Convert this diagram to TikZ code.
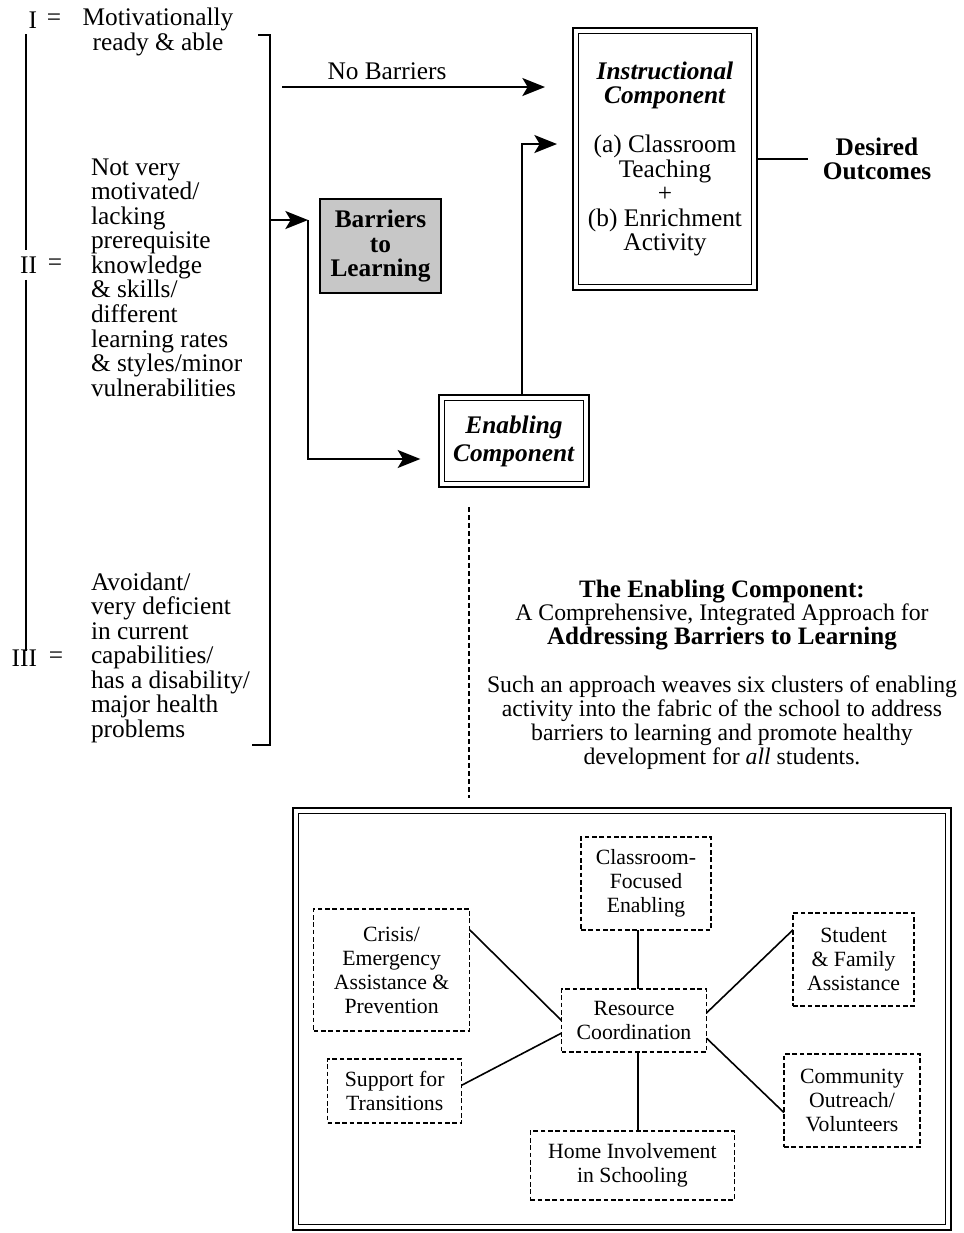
\documentclass[tikz,border=0pt]{standalone}
\usepackage{fontspec}
\setmainfont{Liberation Serif}
\usetikzlibrary{arrows.meta,calc}

\newcommand\PX{0.75pt}
\newcommand\szmain{\fontsize{19pt}{18.4pt}\selectfont}
\newcommand\szblock{\fontsize{17.8pt}{17.9pt}\selectfont}
\newcommand\szhead{\fontsize{18.8pt}{17.9pt}\selectfont\bfseries}
\newcommand\szsmall{\fontsize{16.3pt}{18pt}\selectfont}
\newcommand\bi[1]{\textbf{\textit{#1}}}

\tikzset{
  every node/.style={inner sep=0pt, outer sep=0pt},
  lefttext/.style={font=\szmain, align=left},
  centertext/.style={font=\szmain, align=center},
  rule/.style={line width=1.4pt},
  flow/.style={line width=1.4pt, -{Stealth[length=17pt,width=13.5pt,inset=4pt]}},
  framed/.style={draw, line width=2pt,
    path picture={\draw[line width=0.8pt]
      ([xshift=4pt,yshift=-4pt]path picture bounding box.north west) rectangle
      ([xshift=-4pt,yshift=4pt]path picture bounding box.south east);}},
  dashbox/.style={draw, line width=1.1pt, dash pattern=on 3.5pt off 2pt,
    font=\szsmall, align=center},
  link/.style={line width=1.2pt},
  guide/.style={line width=1.2pt, dash pattern=on 4pt off 2pt},
}

\begin{document}
\begin{tikzpicture}[x=\PX, y=-\PX]
\fill[white] (0,0) rectangle (964,1233);
\useasboundingbox (0,0) rectangle (964,1233);

% ---- student groups ----
\node[lefttext, anchor=east] (n1) at (37,20) {I};
\node[lefttext] (e1) at (54,20) {=};
\node[centertext] (g1) at (158,32) {Motivationally\\ready \& able};

\node[lefttext, anchor=east] (n2) at (37,265) {II};
\node[lefttext] (e2) at (55,265) {=};
\node[lefttext, anchor=west] (g2) at (91,277.5) {Not very\\motivated/\\lacking\\prerequisite\\knowledge\\\& skills/\\different\\learning rates\\\& styles/minor\\vulnerabilities};

\node[lefttext, anchor=east] (n3) at (37,658) {III};
\node[lefttext] (e3) at (56,658) {=};
\node[lefttext, anchor=west] (g3) at (91,657.5) {Avoidant/\\very deficient\\in current\\capabilities/\\has a disability/\\major health\\problems};

\coordinate (vx) at (26,0);
\draw[rule] ([yshift=-4.5pt]n1.south -| vx) -- ([yshift=5pt]n2.north -| vx);
\draw[rule] ([yshift=-5pt]n2.south -| vx) -- ([yshift=-1pt]n3.north -| vx);

% bracket gathering the three groups
\coordinate (brt) at (270,35);
\coordinate (brb) at (270,745);
\draw[rule] ([xshift=-9pt]brt) -- (brt) -- (brb) -- ([xshift=-13.5pt]brb);

% ---- components ----
\node[framed, centertext, minimum width=184*\PX, minimum height=262*\PX] (ins) at (665,159)
  {\bi{Instructional}\\\bi{Component}\\[18.4pt](a) Classroom\\Teaching\\+\\(b) Enrichment\\Activity};

\node[font=\szmain\bfseries, align=center] (out) at (877,159) {Desired\\Outcomes};
\draw[rule, shorten >=11pt] (ins.east) -- (out.west);

\node[draw, line width=1.8pt, fill=black!22, font=\szmain\bfseries, align=center,
  minimum width=121*\PX, minimum height=94*\PX] (bar) at (380.5,246)
  {Barriers\\to\\Learning};

\node[framed, centertext, minimum width=150*\PX, minimum height=92*\PX] (en) at (514,441)
  {\bi{Enabling}\\[2.6pt]\bi{Component}};

% no barriers route
\node[centertext] (nbl) at (387,71) {No Barriers};
\coordinate (nbs) at (282,87);
\draw[flow, shorten >=21pt] (nbs) -- (nbs -| ins.west);

% route through the enabling component
\coordinate (j) at (308,220);
\coordinate (ej) at (308,459);
\draw[flow] (j -| brt) -- (j);
\draw[flow, shorten >=14pt] (j) -- (ej) -- (ej -| en.west);

\coordinate (up) at (522,144);
\draw[flow, shorten >=12pt] (up |- en.north) -- (up) -- (up -| ins.west);

% ---- description ----
\node[font=\szblock, align=center] (desc) at (722,674.5)
  {{\szhead The Enabling Component:}\\
   A Comprehensive, Integrated Approach for\\
   {\szhead Addressing Barriers to Learning}\\[18pt]
   Such an approach weaves six clusters of enabling\\
   activity into the fabric of the school to address\\
   barriers to learning and promote healthy\\
   development for \textit{all} students.};

% ---- six clusters ----
\node[framed, minimum width=658*\PX, minimum height=422*\PX] (frame) at (622,1019) {};

\coordinate (dtop) at (469,507);
\draw[guide, shorten >=7.5pt] (dtop) -- (dtop |- frame.north);

\node[dashbox, minimum width=145*\PX, minimum height=63*\PX] (rc) at (634,1020.5) {Resource\\Coordination};
\node[dashbox, minimum width=130*\PX, minimum height=93*\PX] (cfe) at (646,883.5) {Classroom-\\Focused\\Enabling};
\node[dashbox, minimum width=156*\PX, minimum height=122*\PX] (cri) at (391.6,970) {Crisis/\\Emergency\\Assistance \&\\Prevention};
\node[dashbox, minimum width=121*\PX, minimum height=93*\PX] (sfa) at (853.6,959.5) {Student\\\& Family\\Assistance};
\node[dashbox, minimum width=134*\PX, minimum height=64*\PX] (sft) at (394.7,1091) {Support for\\Transitions};
\node[dashbox, minimum width=136*\PX, minimum height=93*\PX] (cov) at (852,1100.5) {Community\\Outreach/\\Volunteers};
\node[dashbox, minimum width=204*\PX, minimum height=69*\PX] (hin) at (632.4,1165.5) {Home Involvement\\in Schooling};

\coordinate (lx) at (638,0);
\draw[link] (cfe.south -| lx) -- (rc.north -| lx);
\draw[link] (hin.north -| lx) -- (rc.south -| lx);
\draw[link] ($(cri.north east)!0.17!(cri.south east)$) -- (rc.west);
\draw[link] ($(sft.north east)!0.41!(sft.south east)$) -- ($(rc.north west)!0.70!(rc.south west)$);
\draw[link] ($(sfa.north west)!0.18!(sfa.south west)$) -- ($(rc.north east)!0.38!(rc.south east)$);
\draw[link] ($(cov.north west)!0.63!(cov.south west)$) -- ($(rc.north east)!0.78!(rc.south east)$);

\end{tikzpicture}
\end{document}
